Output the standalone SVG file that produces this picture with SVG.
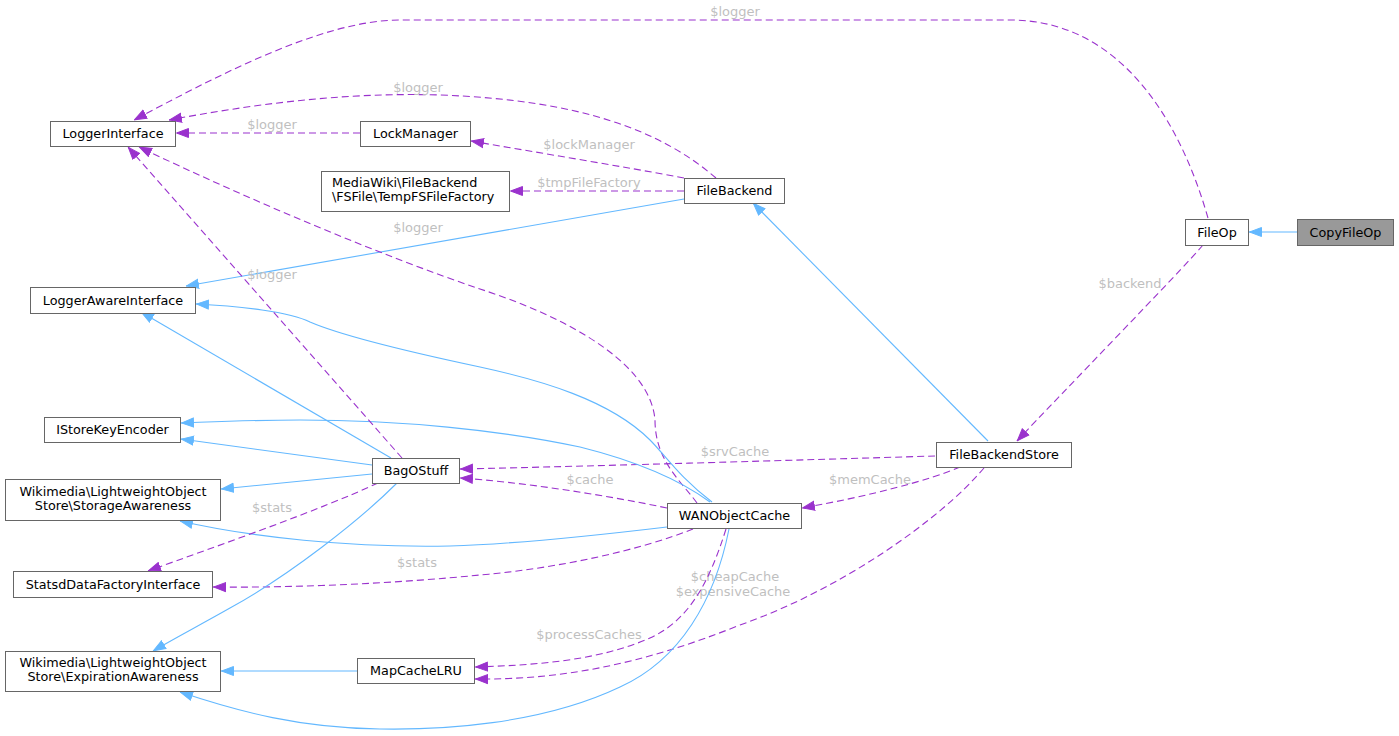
<svg xmlns="http://www.w3.org/2000/svg" width="1399" height="736" viewBox="0 0 1399 736">
<style>
.node rect{fill:#ffffff;stroke:#666666;stroke-width:1}
.node text{font-family:"DejaVu Sans","Liberation Sans",sans-serif;font-size:12.75px;fill:#000000}
.c{text-anchor:middle}
.inh{fill:none;stroke:#63b8ff;stroke-width:1.1}
.use{fill:none;stroke:#9a32cd;stroke-width:1.1;stroke-dasharray:7,4}
.lbl{font-family:"DejaVu Sans","Liberation Sans",sans-serif;font-size:13px;fill:#bfbfbf;text-anchor:middle}
</style>
<defs>
<marker id="ab" markerUnits="userSpaceOnUse" markerWidth="13" markerHeight="11" refX="13" refY="5.5" orient="auto" viewBox="0 0 13 11">
<path d="M0.5,1 L12.5,5.5 L0.5,10 z" fill="#63b8ff" stroke="#63b8ff"/>
</marker>
<marker id="ap" markerUnits="userSpaceOnUse" markerWidth="13" markerHeight="11" refX="13" refY="5.5" orient="auto" viewBox="0 0 13 11">
<path d="M0.5,1 L12.5,5.5 L0.5,10 z" fill="#9a32cd" stroke="#9a32cd"/>
</marker>
</defs>
<g id="edges">
<path class="inh" marker-end="url(#ab)" d="M1297,232 L1249,232"/>
<path class="use" marker-end="url(#ap)" d="M1208,218 C1180,120 1120,20 1010,20 L400,20 C320,20 210,80 134,120"/>
<text class="lbl" x="735" y="16">$logger</text>
<path class="use" marker-end="url(#ap)" d="M1203,245 C1180,272 1060,395 1017,441"/>
<text class="lbl" x="1130" y="288">$backend</text>
<path class="use" marker-end="url(#ap)" d="M716,178 C660,130 580,100 440,95 C340,92 250,105 169,120"/>
<text class="lbl" x="418" y="92">$logger</text>
<path class="use" marker-end="url(#ap)" d="M684,178 C620,166 540,153 471,141"/>
<text class="lbl" x="589" y="149">$lockManager</text>
<path class="use" marker-end="url(#ap)" d="M684,191 L510,191"/>
<text class="lbl" x="589" y="187">$tmpFileFactory</text>
<path class="inh" marker-end="url(#ab)" d="M684,199 L186,286"/>
<path class="use" marker-end="url(#ap)" d="M360,133 L176,133"/>
<text class="lbl" x="272" y="129">$logger</text>
<path class="inh" marker-end="url(#ab)" d="M988,441 L753,203"/>
<path class="use" marker-end="url(#ap)" d="M935,456 C800,460 600,466 460,469"/>
<text class="lbl" x="735" y="456">$srvCache</text>
<path class="use" marker-end="url(#ap)" d="M960,467 C930,480 870,496 802,508"/>
<text class="lbl" x="870" y="484">$memCache</text>
<path class="use" marker-end="url(#ap)" d="M984,468 C940,520 840,590 740,625 C640,665 560,680 475,679"/>
<text class="lbl" x="735" y="581">$cheapCache</text>
<text class="lbl" x="733" y="596">$expensiveCache</text>
<path class="use" marker-end="url(#ap)" d="M697,503 C680,480 655,460 655,420 C650,360 560,315 480,289 C380,255 250,200 139,147"/>
<text class="lbl" x="418" y="232">$logger</text>
<path class="inh" marker-end="url(#ab)" d="M712,502 C680,478 665,455 650,440 C610,400 540,380 480,367 C400,350 340,335 310,322 C290,312 240,306 196,304"/>
<path class="inh" marker-end="url(#ab)" d="M710,502 C680,480 640,462 580,447 C500,430 400,420 300,420 C250,420 210,422 181,423"/>
<path class="use" marker-end="url(#ap)" d="M667,508 C600,494 520,482 460,478"/>
<text class="lbl" x="590" y="484">$cache</text>
<path class="inh" marker-end="url(#ab)" d="M667,527 C600,535 520,544 450,546 C350,548 250,537 180,521"/>
<path class="use" marker-end="url(#ap)" d="M693,529 C640,550 560,568 480,575 C400,583 300,588 213,587"/>
<text class="lbl" x="417" y="567">$stats</text>
<path class="use" marker-end="url(#ap)" d="M726,529 C710,580 690,620 650,638 C600,660 540,665 475,667"/>
<text class="lbl" x="589" y="639">$processCaches</text>
<path class="inh" marker-end="url(#ab)" d="M729,529 C715,600 680,660 620,687 C540,725 440,730 380,729 C300,728 240,712 180,692"/>
<path class="use" marker-end="url(#ap)" d="M402,458 L128,147"/>
<text class="lbl" x="272" y="279">$logger</text>
<path class="inh" marker-end="url(#ab)" d="M391,458 L141,312"/>
<path class="inh" marker-end="url(#ab)" d="M372,465 L181,439"/>
<path class="inh" marker-end="url(#ab)" d="M372,474 L221,489"/>
<path class="use" marker-end="url(#ap)" d="M378,483 C320,510 220,545 148,571"/>
<text class="lbl" x="272" y="512">$stats</text>
<path class="inh" marker-end="url(#ab)" d="M397,483 C360,520 290,575 230,608 C200,625 175,638 153,651"/>
<path class="inh" marker-end="url(#ab)" d="M357,671 L221,671"/>
</g>
<g id="n-LoggerInterface" class="node"><rect x="50.5" y="121.5" width="125" height="25"/><text class="c" x="113" y="138">LoggerInterface</text></g>
<g id="n-LockManager" class="node"><rect x="360.5" y="121.5" width="110" height="25"/><text class="c" x="415.5" y="138">LockManager</text></g>
<g id="n-TempFSFileFactory" class="node"><rect x="321.5" y="171.5" width="188" height="40"/><text x="332" y="187">MediaWiki\FileBackend</text><text x="332" y="201">\FSFile\TempFSFileFactory</text></g>
<g id="n-FileBackend" class="node"><rect x="684.5" y="178.5" width="100" height="25"/><text class="c" x="734.5" y="195">FileBackend</text></g>
<g id="n-FileOp" class="node"><rect x="1185.5" y="219.5" width="63" height="26"/><text class="c" x="1217" y="236.5">FileOp</text></g>
<g id="n-CopyFileOp" class="node"><rect x="1297.5" y="219.5" width="96" height="26" style="fill:#999999"/><text class="c" x="1345.5" y="236.5">CopyFileOp</text></g>
<g id="n-LoggerAwareInterface" class="node"><rect x="30.5" y="287.5" width="165" height="26"/><text class="c" x="113" y="304.5">LoggerAwareInterface</text></g>
<g id="n-IStoreKeyEncoder" class="node"><rect x="44.5" y="417.5" width="136" height="25"/><text class="c" x="112.5" y="434">IStoreKeyEncoder</text></g>
<g id="n-BagOStuff" class="node"><rect x="372.5" y="458.5" width="87" height="25"/><text class="c" x="416" y="475">BagOStuff</text></g>
<g id="n-FileBackendStore" class="node"><rect x="936.5" y="442.5" width="135" height="25"/><text class="c" x="1004" y="459">FileBackendStore</text></g>
<g id="n-StorageAwareness" class="node"><rect x="5.5" y="479.5" width="215" height="41"/><text class="c" x="113" y="496">Wikimedia\LightweightObject</text><text class="c" x="113" y="510">Store\StorageAwareness</text></g>
<g id="n-WANObjectCache" class="node"><rect x="667.5" y="503.5" width="134" height="25"/><text class="c" x="734.5" y="520">WANObjectCache</text></g>
<g id="n-StatsdDataFactoryInterface" class="node"><rect x="13.5" y="571.5" width="199" height="26"/><text class="c" x="113" y="588.5">StatsdDataFactoryInterface</text></g>
<g id="n-MapCacheLRU" class="node"><rect x="357.5" y="658.5" width="117" height="25"/><text class="c" x="416" y="675">MapCacheLRU</text></g>
<g id="n-ExpirationAwareness" class="node"><rect x="5.5" y="651.5" width="215" height="40"/><text class="c" x="113" y="667">Wikimedia\LightweightObject</text><text class="c" x="113" y="681">Store\ExpirationAwareness</text></g>
</svg>
